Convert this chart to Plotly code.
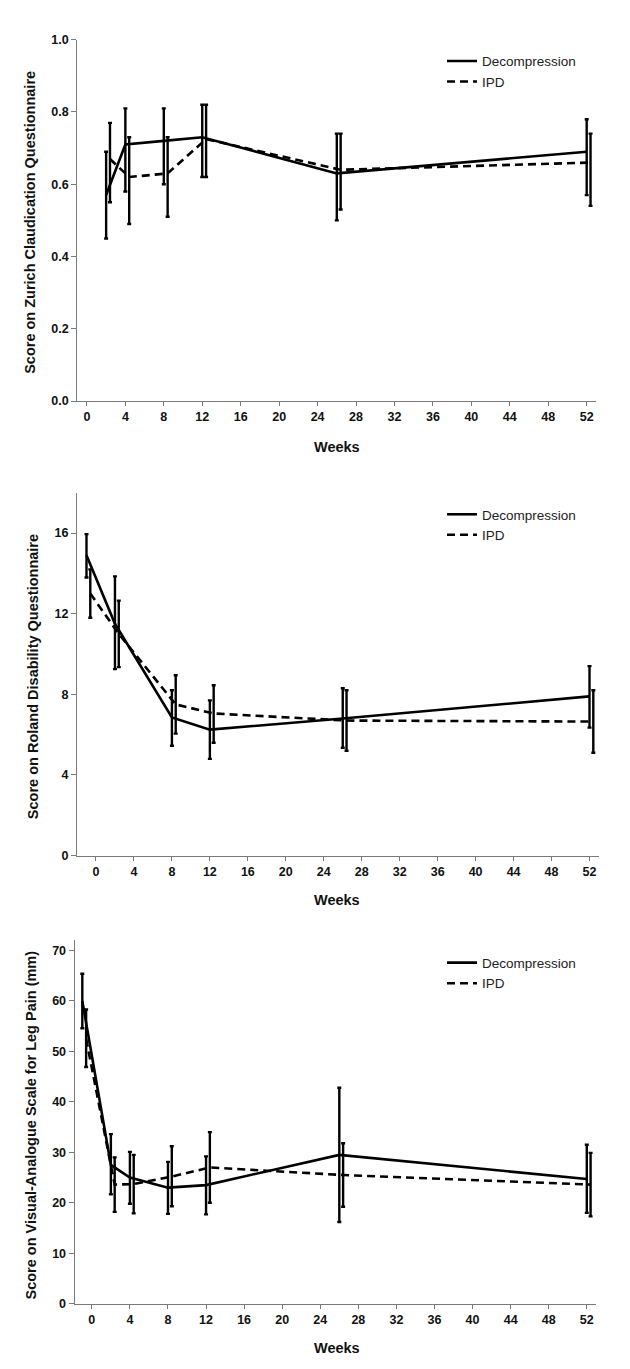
import plotly.graph_objects as go

# ---------------- data ----------------
series_names = ["Decompression", "IPD"]
x_ticks = list(range(0, 53, 4))

# Zurich Claudication Questionnaire
zcq_weeks = [2, 4, 8, 12, 26, 52]
zcq_decomp_mean = [0.57, 0.71, 0.72, 0.73, 0.63, 0.69]
zcq_decomp_upper = [0.69, 0.81, 0.81, 0.82, 0.74, 0.78]
zcq_decomp_lower = [0.45, 0.58, 0.60, 0.62, 0.50, 0.57]
zcq_ipd_mean = [0.67, 0.62, 0.63, 0.725, 0.64, 0.66]
zcq_ipd_upper = [0.77, 0.73, 0.73, 0.82, 0.74, 0.74]
zcq_ipd_lower = [0.55, 0.49, 0.51, 0.62, 0.53, 0.54]

# Roland Disability Questionnaire
rdq_weeks = [-1, 2, 8, 12, 26, 52]
rdq_decomp_mean = [14.9, 11.5, 6.85, 6.25, 6.8, 7.9]
rdq_decomp_upper = [15.95, 13.85, 8.2, 7.7, 8.3, 9.4]
rdq_decomp_lower = [13.8, 9.25, 5.45, 4.8, 5.35, 6.35]
rdq_ipd_mean = [13.0, 11.0, 7.5, 7.05, 6.7, 6.65]
rdq_ipd_upper = [14.2, 12.65, 8.95, 8.45, 8.2, 8.2]
rdq_ipd_lower = [11.8, 9.35, 6.05, 5.6, 5.2, 5.1]

# Visual-Analogue Scale for Leg Pain
vas_weeks = [-1, 2, 4, 8, 12, 26, 52]
vas_decomp_mean = [60.0, 27.5, 25.0, 23.0, 23.5, 29.5, 24.7]
vas_decomp_upper = [65.4, 33.6, 30.1, 28.1, 29.2, 42.8, 31.5]
vas_decomp_lower = [54.6, 21.7, 19.8, 17.8, 17.7, 16.2, 18.0]
vas_ipd_mean = [52.5, 23.6, 23.7, 25.2, 27.0, 25.5, 23.6]
vas_ipd_upper = [58.3, 29.0, 29.5, 31.2, 34.0, 31.8, 29.9]
vas_ipd_lower = [46.9, 18.2, 17.9, 19.3, 20.0, 19.2, 17.3]

y_titles = [
    "Score on Zurich Claudication Questionnaire",
    "Score on Roland Disability Questionnaire",
    "Score on Visual-Analogue Scale for Leg Pain (mm)",
]
x_title = "Weeks"

# ---------------- layout geometry (pixels) ----------------
W, H = 630, 1369
IPD_OFFSET = 0.4
FONT = "Liberation Sans, Arial, sans-serif"
AXIS_GRAY = "#7a7a7a"

panels = [
    dict(x0=69.3, x1=588.3, ytop=25, ybot=390, xr=[-1.0, 53.0], yr=[0, 1.0],
         yt=[0, 0.2, 0.4, 0.6, 0.8, 1.0], yfmt=".1f",
         leg_top=31, title_x=22, title_y=210, weeks_y=436,
         data=(zcq_weeks, zcq_decomp_mean, zcq_decomp_upper, zcq_decomp_lower,
               zcq_ipd_mean, zcq_ipd_upper, zcq_ipd_lower)),
    dict(x0=69.0, x1=591.0, ytop=482.7, ybot=849.3, xr=[-2.0, 53.0], yr=[0, 18],
         yt=[0, 4, 8, 12, 16], yfmt="d",
         leg_top=489, title_x=25, title_y=669, weeks_y=894,
         data=(rdq_weeks, rdq_decomp_mean, rdq_decomp_upper, rdq_decomp_lower,
               rdq_ipd_mean, rdq_ipd_upper, rdq_ipd_lower)),
    dict(x0=66.7, x1=588.3, ytop=935, ybot=1302, xr=[-1.8, 53.0], yr=[0, 72],
         yt=[0, 10, 20, 30, 40, 50, 60, 70], yfmt="d",
         leg_top=942, title_x=23, title_y=1122, weeks_y=1347,
         data=(vas_weeks, vas_decomp_mean, vas_decomp_upper, vas_decomp_lower,
               vas_ipd_mean, vas_ipd_upper, vas_ipd_lower)),
]

fig = go.Figure()
layout = dict(
    width=W, height=H,
    margin=dict(l=0, r=0, t=0, b=0),
    paper_bgcolor="white", plot_bgcolor="white",
    font=dict(family=FONT, color="#111111"),
    annotations=[],
)

for i, p in enumerate(panels):
    n = "" if i == 0 else str(i + 1)
    xa, ya = "x" + n, "y" + n
    leg = "legend" + n
    weeks, dm, du, dl, im, iu, il = p["data"]

    fig.add_trace(go.Scatter(
        x=weeks, y=dm, mode="lines", name=series_names[0],
        xaxis=xa, yaxis=ya, legend=leg,
        line=dict(color="black", width=2.6),
        error_y=dict(type="data", symmetric=False,
                     array=[u - m for u, m in zip(du, dm)],
                     arrayminus=[m - l for m, l in zip(dm, dl)],
                     color="black", thickness=2.4, width=2),
    ))
    fig.add_trace(go.Scatter(
        x=[w + IPD_OFFSET for w in weeks], y=im, mode="lines", name=series_names[1],
        xaxis=xa, yaxis=ya, legend=leg,
        line=dict(color="black", width=2.6, dash="8px,5px"),
        error_y=dict(type="data", symmetric=False,
                     array=[u - m for u, m in zip(iu, im)],
                     arrayminus=[m - l for m, l in zip(im, il)],
                     color="black", thickness=2.4, width=2),
    ))

    layout["xaxis" + n] = dict(
        domain=[p["x0"] / W, p["x1"] / W], anchor=ya, range=p["xr"],
        tickmode="array", tickvals=x_ticks, ticks="outside", ticklen=4,
        tickwidth=1.2, tickcolor=AXIS_GRAY, showline=True, linecolor=AXIS_GRAY,
        linewidth=1.3, showgrid=False, zeroline=False,
        tickfont=dict(family=FONT, size=12.5, color="#111111", weight="bold"),
    )
    layout["yaxis" + n] = dict(
        domain=[1 - p["ybot"] / H, 1 - p["ytop"] / H], anchor=xa, range=p["yr"],
        tickmode="array", tickvals=p["yt"], tickformat=p["yfmt"],
        ticks="outside", ticklen=5, tickwidth=1.2, tickcolor=AXIS_GRAY,
        showline=True, linecolor=AXIS_GRAY, linewidth=1.3,
        showgrid=False, zeroline=False,
        tickfont=dict(family=FONT, size=12.5, color="#111111", weight="bold"),
    )
    layout[leg] = dict(
        x=434 / W, y=1 - p["leg_top"] / H, xanchor="left", yanchor="top",
        bgcolor="rgba(0,0,0,0)", borderwidth=0, tracegroupgap=0,
        font=dict(family=FONT, size=13.5, color="#222222"),
    )
    layout["annotations"].append(dict(
        text=y_titles[i], xref="paper", yref="paper",
        x=p["title_x"] / W, y=1 - p["title_y"] / H, textangle=-90,
        showarrow=False, xanchor="center", yanchor="middle",
        font=dict(family=FONT, size=14.5, color="#111111", weight="bold"),
    ))
    layout["annotations"].append(dict(
        text=x_title, xref="paper", yref="paper",
        x=329 / W, y=1 - p["weeks_y"] / H,
        showarrow=False, xanchor="center", yanchor="middle",
        font=dict(family=FONT, size=14.5, color="#111111", weight="bold"),
    ))

fig.update_layout(**layout)
fig.write_html("out.html")
